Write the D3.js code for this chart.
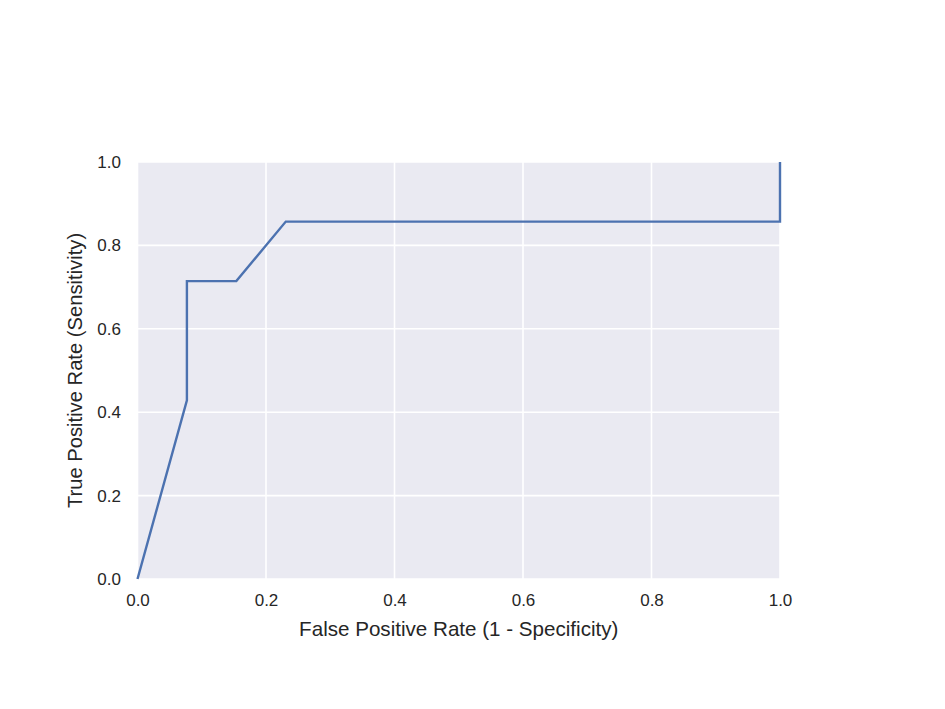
<!DOCTYPE html>
<html>
<head>
<meta charset="utf-8">
<script src="https://cdn.jsdelivr.net/npm/d3@7"></script>
<style>
  html, body { margin: 0; padding: 0; background: #fff; }
  text { font-family: "Liberation Sans", Arial, sans-serif; fill: #262626; }
</style>
</head>
<body>
<svg id="chart" width="945" height="709"></svg>
<script>
// ROC curve points
const fpr = [0.0, 0.0769, 0.0769, 0.1538, 0.2308, 1.0, 1.0];
const tpr = [0.0, 0.4286, 0.7143, 0.7143, 0.8571, 0.8571, 1.0];
const xTicks = [0.0, 0.2, 0.4, 0.6, 0.8, 1.0];
const yTicks = [0.0, 0.2, 0.4, 0.6, 0.8, 1.0];
const xLabel = "False Positive Rate (1 - Specificity)";
const yLabel = "True Positive Rate (Sensitivity)";

const svg = d3.select("#chart");
const m = { left: 137.5, right: 780, top: 162, bottom: 579 };
const x = d3.scaleLinear().domain([0, 1]).range([m.left, m.right]);
const y = d3.scaleLinear().domain([0, 1]).range([m.bottom, m.top]);

svg.append("rect")
  .attr("x", m.left).attr("y", m.top)
  .attr("width", m.right - m.left).attr("height", m.bottom - m.top)
  .attr("fill", "#EAEAF2");

const grid = svg.append("g").attr("stroke", "#fff").attr("stroke-width", 1.6);
grid.selectAll("line.v").data(xTicks).join("line").attr("class", "v")
  .attr("x1", d => x(d)).attr("x2", d => x(d))
  .attr("y1", m.top).attr("y2", m.bottom);
grid.selectAll("line.h").data(yTicks).join("line").attr("class", "h")
  .attr("x1", m.left).attr("x2", m.right)
  .attr("y1", d => y(d)).attr("y2", d => y(d));

const font = "'Liberation Sans', Arial, sans-serif";
// axes (labels only)
const xAxis = svg.append("g").attr("transform", `translate(0,${m.bottom})`)
  .call(d3.axisBottom(x).tickValues(xTicks).tickFormat(d3.format(".1f")).tickSize(0).tickPadding(15));
xAxis.select(".domain").remove();
xAxis.selectAll("text").attr("font-size", 17).style("font-family", font).attr("fill", "#333");

const yAxis = svg.append("g").attr("transform", `translate(${m.left},0)`)
  .call(d3.axisLeft(y).tickValues(yTicks).tickFormat(d3.format(".1f")).tickSize(0).tickPadding(16.5));
yAxis.select(".domain").remove();
yAxis.selectAll("text").attr("font-size", 17).style("font-family", font).attr("fill", "#333");

const line = d3.line().x(d => x(d[0])).y(d => y(d[1]));
svg.append("path")
  .datum(fpr.map((f, i) => [f, tpr[i]]))
  .attr("d", line)
  .attr("fill", "none")
  .attr("stroke", "#4C72B0")
  .attr("stroke-width", 2.4);

svg.append("text")
  .attr("x", (m.left + m.right) / 2).attr("y", 636)
  .attr("text-anchor", "middle").attr("font-size", 20.6)
  .attr("fill", "#333")
  .text(xLabel);

svg.append("text")
  .attr("transform", `translate(82,${(m.top + m.bottom) / 2}) rotate(-90)`)
  .attr("text-anchor", "middle").attr("font-size", 20.2)
  .attr("fill", "#333")
  .text(yLabel);
</script>
</body>
</html>
